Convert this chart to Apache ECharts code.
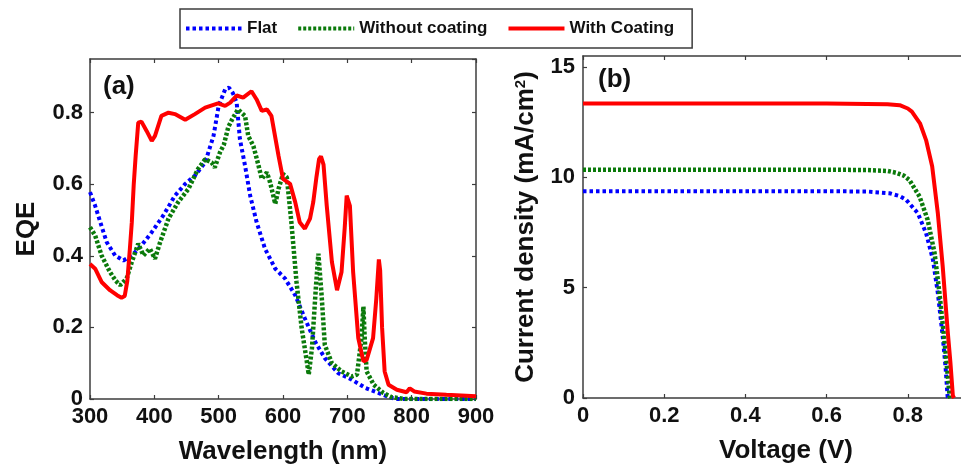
<!DOCTYPE html>
<html>
<head>
<meta charset="utf-8">
<script src="https://cdn.jsdelivr.net/npm/echarts@6/dist/echarts.min.js"></script>
<style>
  html, body { margin: 0; padding: 0; background: #fff; }
  #chart { width: 961px; height: 464px; }
</style>
</head>
<body>
<div id="chart"></div>
<script>
// Series names
const seriesNames = ['Flat', 'Without coating', 'With Coating'];

// (a) External quantum efficiency vs wavelength (nm)
const flatNm = [300, 308, 316, 326, 339, 352, 365, 380, 396, 414, 432, 448, 463, 479, 492, 500, 510, 516, 522, 528, 533, 541, 549, 559, 572, 588, 603, 619, 634, 650, 665, 686, 707, 728, 741, 761, 775, 790, 900];
const flatEqe = [0.578, 0.540, 0.494, 0.438, 0.401, 0.387, 0.401, 0.429, 0.466, 0.513, 0.568, 0.601, 0.624, 0.661, 0.735, 0.819, 0.865, 0.870, 0.855, 0.828, 0.726, 0.652, 0.568, 0.494, 0.420, 0.364, 0.337, 0.290, 0.225, 0.160, 0.114, 0.072, 0.054, 0.031, 0.022, 0.008, 0.0, 0.0, 0.0];

const bareNm = [300, 308, 318, 331, 340, 347, 357, 365, 375, 383, 393, 401, 409, 422, 437, 453, 468, 479, 489, 494, 502, 508, 515, 522, 530, 541, 546, 554, 562, 567, 575, 580, 588, 593, 600, 606, 613, 621, 629, 637, 640, 645, 651, 655, 660, 665, 676, 691, 707, 715, 722, 725, 727, 730, 741, 756, 769, 790, 900];
const bareEqe = [0.480, 0.457, 0.401, 0.355, 0.330, 0.318, 0.337, 0.383, 0.434, 0.401, 0.420, 0.392, 0.438, 0.504, 0.550, 0.587, 0.643, 0.670, 0.661, 0.647, 0.689, 0.710, 0.760, 0.785, 0.809, 0.791, 0.735, 0.707, 0.652, 0.615, 0.633, 0.605, 0.545, 0.587, 0.629, 0.619, 0.494, 0.327, 0.198, 0.105, 0.068, 0.142, 0.309, 0.406, 0.290, 0.151, 0.100, 0.077, 0.063, 0.068, 0.170, 0.258, 0.170, 0.077, 0.040, 0.017, 0.005, 0.0, 0.0];

const coatNm = [300, 308, 318, 331, 342, 349, 354, 358, 362, 365, 368, 371, 375, 380, 388, 396, 401, 411, 422, 432, 448, 463, 479, 499, 510, 518, 528, 538, 551, 559, 567, 575, 582, 593, 600, 611, 619, 626, 634, 642, 647, 652, 656, 659, 663, 668, 676, 684, 691, 696, 699, 704, 709, 717, 725, 730, 740, 745, 749, 751, 754, 758, 764, 777, 792, 797, 800, 804, 823, 854, 900];
const coatEqe = [0.377, 0.364, 0.327, 0.304, 0.290, 0.283, 0.288, 0.330, 0.420, 0.494, 0.600, 0.680, 0.772, 0.775, 0.749, 0.721, 0.735, 0.791, 0.800, 0.796, 0.780, 0.796, 0.814, 0.826, 0.819, 0.828, 0.848, 0.842, 0.860, 0.837, 0.805, 0.809, 0.791, 0.680, 0.615, 0.601, 0.550, 0.494, 0.476, 0.504, 0.550, 0.620, 0.670, 0.678, 0.655, 0.540, 0.383, 0.304, 0.355, 0.480, 0.568, 0.540, 0.355, 0.170, 0.105, 0.109, 0.170, 0.280, 0.390, 0.360, 0.200, 0.077, 0.040, 0.026, 0.019, 0.030, 0.032, 0.021, 0.015, 0.012, 0.008];

// (b) Current density (mA/cm2) vs voltage (V)
const flatV = [0, 0.1, 0.2, 0.3, 0.4, 0.5, 0.6, 0.7, 0.72, 0.755, 0.78, 0.796, 0.825, 0.845, 0.862, 0.874, 0.886, 0.893, 0.898, 0.900];
const flatJ = [9.37, 9.37, 9.37, 9.37, 9.37, 9.37, 9.37, 9.36, 9.33, 9.28, 9.15, 8.98, 8.37, 7.47, 6.26, 4.75, 2.79, 1.40, 0.07, 0];

const bareV = [0, 0.1, 0.2, 0.3, 0.4, 0.5, 0.6, 0.7, 0.75, 0.771, 0.79, 0.804, 0.829, 0.849, 0.866, 0.878, 0.890, 0.897, 0.903, 0.905];
const bareJ = [10.35, 10.35, 10.35, 10.35, 10.35, 10.35, 10.35, 10.33, 10.29, 10.21, 10.08, 9.88, 9.13, 8.07, 6.56, 4.75, 2.64, 1.30, 0.07, 0];

const coatV = [0, 0.1, 0.2, 0.3, 0.4, 0.5, 0.6, 0.7, 0.75, 0.78, 0.80, 0.81, 0.83, 0.845, 0.86, 0.874, 0.886, 0.898, 0.905, 0.911, 0.914];
const coatJ = [13.35, 13.35, 13.35, 13.35, 13.35, 13.35, 13.35, 13.33, 13.31, 13.27, 13.12, 12.98, 12.45, 11.69, 10.50, 8.37, 5.96, 3.09, 1.60, 0.10, 0];

// Axis ticks
const nmTicks = { min: 300, max: 900, step: 100 };
const eqeTicks = { min: 0, max: 0.95, step: 0.2 };
const voltTicks = { min: 0, max: 1.0, step: 0.2 };
const currentTicks = { min: 0, max: 15.5, step: 5 };

const FONT = '"Liberation Sans", Arial, Helvetica, sans-serif';
const LINE_COLOR = '#3c3c3c';
const colors = { flat: '#0000ff', bare: '#0b7a0b', coat: '#ff0000' };

const pairs = (xs, ys) => xs.map((x, i) => [x, ys[i]]);

function axis(gridIndex, position, t, opts) {
  opts = opts || {};
  return {
    type: 'value',
    gridIndex: gridIndex,
    position: position,
    min: t.min, max: t.max, interval: t.step,
    axisLine: { show: true, onZero: false, lineStyle: { color: LINE_COLOR, width: 1.5 } },
    axisTick: { show: true, inside: true, length: 4, lineStyle: { color: LINE_COLOR, width: 1.2 } },
    axisLabel: {
      show: !!opts.labels,
      showMaxLabel: opts.showMax === true,
      margin: opts.margin || 7,
      color: '#111', fontSize: 22, fontWeight: 'bold', fontFamily: FONT
    },
    splitLine: { show: false },
    name: opts.name || '',
    nameLocation: 'middle',
    nameGap: opts.nameGap || 0,
    nameRotate: opts.nameRotate || 0,
    nameTextStyle: Object.assign({ color: '#111', fontSize: 26, fontWeight: 'bold', fontFamily: FONT }, opts.nameStyle || {})
  };
}

const dotted = (color, width, dash) => ({ color: color, width: width, type: dash, cap: 'butt' });

function line(name, xIdx, yIdx, data, style) {
  return {
    name: name, type: 'line', xAxisIndex: xIdx, yAxisIndex: yIdx,
    data: data, symbol: 'none', showSymbol: false, smooth: false,
    lineStyle: style, itemStyle: { color: style.color },
    clip: true, silent: true, animation: false, z: 3
  };
}

const chart = echarts.init(document.getElementById('chart'), null, { renderer: 'canvas' });

chart.setOption({
  backgroundColor: '#fff',
  animation: false,
  textStyle: { fontFamily: FONT },
  legend: {
    data: seriesNames,
    left: 180, top: 9,
    padding: [11, 18, 11, 4],
    itemWidth: 56, itemHeight: 18, itemGap: 19,
    borderColor: LINE_COLOR, borderWidth: 1.5,
    itemStyle: { opacity: 0 },
    lineStyle: { width: 4 },
    textStyle: { fontSize: 17, fontWeight: 'bold', color: '#111', fontFamily: FONT }
  },
  grid: [
    { left: 90, top: 59, width: 386, height: 340, outerBoundsMode: 'none', containLabel: false },
    { left: 583, top: 56, width: 406, height: 342, outerBoundsMode: 'none', containLabel: false }
  ],
  xAxis: [
    axis(0, 'bottom', nmTicks, { labels: true, showMax: true, margin: 7, name: 'Wavelength (nm)', nameGap: 40 }),
    axis(0, 'top', nmTicks),
    axis(1, 'bottom', voltTicks, { labels: true, margin: 7, name: 'Voltage (V)', nameGap: 40 }),
    axis(1, 'top', voltTicks)
  ],
  yAxis: [
    axis(0, 'left', eqeTicks, { labels: true, margin: 7, name: 'EQE', nameGap: 50, nameRotate: 90 }),
    axis(0, 'right', eqeTicks),
    axis(1, 'left', currentTicks, {
      labels: true, margin: 8,
      name: '{a|Current density (mA/cm}{s|2}{a|)}', nameGap: 44, nameRotate: 90,
      nameStyle: {
        rich: {
          a: { fontSize: 26, fontWeight: 'bold', color: '#111', fontFamily: FONT },
          s: { fontSize: 15, fontWeight: 'bold', color: '#111', fontFamily: FONT, verticalAlign: 'top' }
        }
      }
    })
  ],
  series: [
    line('Flat', 0, 0, pairs(flatNm, flatEqe), dotted(colors.flat, 4, [3.5, 3])),
    line('Without coating', 0, 0, pairs(bareNm, bareEqe), dotted(colors.bare, 4.5, [3, 2])),
    line('With Coating', 0, 0, pairs(coatNm, coatEqe), { color: colors.coat, width: 4, type: 'solid' }),
    line('Flat', 2, 2, pairs(flatV, flatJ), dotted(colors.flat, 4, [3.5, 3])),
    line('Without coating', 2, 2, pairs(bareV, bareJ), dotted(colors.bare, 4.5, [3, 2])),
    line('With Coating', 2, 2, pairs(coatV, coatJ), { color: colors.coat, width: 4, type: 'solid' })
  ],
  graphic: [
    { type: 'text', left: 103, top: 74, style: { text: '(a)', fontSize: 26, fontWeight: 'bold', fill: '#111', fontFamily: FONT } },
    { type: 'text', left: 598, top: 67, style: { text: '(b)', fontSize: 26, fontWeight: 'bold', fill: '#111', fontFamily: FONT } }
  ]
});
</script>
</body>
</html>
